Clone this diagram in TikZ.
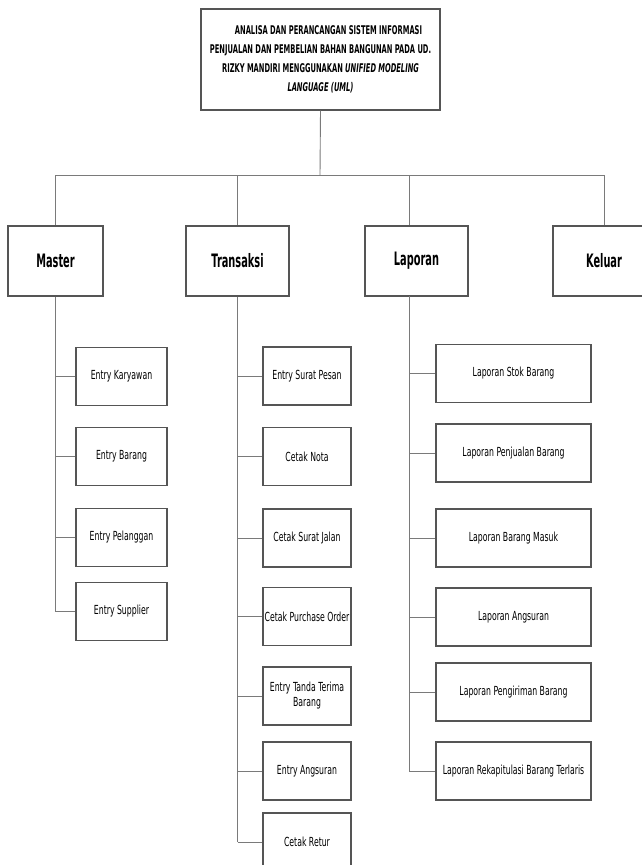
\documentclass[tikz,border=0pt]{standalone}
\usepackage{fontspec}
\setmainfont{DejaVu Sans}
\newfontfamily\titlefont[FakeStretch=0.56]{DejaVu Sans}
\newfontfamily\menufont[FakeStretch=0.53]{DejaVu Sans}
\newfontfamily\itemfont[FakeStretch=0.62]{DejaVu Sans}
\definecolor{edge}{HTML}{555555}
\definecolor{wire}{HTML}{7A7A7A}
\begin{document}
\begin{tikzpicture}[x=1pt,y=-1pt,
  box/.style={draw=edge,line width=1.1pt,fill=white,inner sep=1pt,align=center},
  titlebox/.style={box,minimum width=239pt,minimum height=101pt},
  menubox/.style={box,minimum height=70pt,font=\menufont\bfseries\fontsize{18.5}{20}\selectfont},
  itemtext/.style={font=\itemfont\fontsize{12.5}{15}\selectfont},
  mitem/.style={box,itemtext,minimum width=91pt,minimum height=58pt},
  titem/.style={box,itemtext,minimum width=88pt,minimum height=58pt},
  litem/.style={box,itemtext,minimum width=155pt,minimum height=58pt},
  wirel/.style={draw=wire,line width=0.9pt}]
\clip (0,0) rectangle (642,865);
\fill[white] (0,0) rectangle (642,865);

% title
\node[titlebox,font=\titlefont\bfseries\fontsize{12}{19}\selectfont] (title) at (320.5,59.5)
  {\hspace*{16pt}ANALISA DAN PERANCANGAN SISTEM INFORMASI\\
   PENJUALAN DAN PEMBELIAN BAHAN BANGUNAN PADA UD.\\
   RIZKY MANDIRI MENGGUNAKAN \textit{UNIFIED MODELING}\\
   \textit{LANGUAGE (UML)}};

% main menu
\node[menubox,minimum width=95pt]  (master)    at (55.5,261) {Master};
\node[menubox,minimum width=103pt] (transaksi) at (237.5,261) {Transaksi};
\node[menubox,minimum width=103pt] (laporan)   at (416.5,261) {Laporan};
\node[menubox,minimum width=102pt] (keluar)    at (604,261) {Keluar};

\coordinate (bus) at (320,175);
\coordinate (lapx) at (409,296);

% master items
\node[mitem] (m1) at (121.5,376.5) {Entry Karyawan};
\node[mitem] (m2) at (121.5,456.5) {Entry Barang};
\node[mitem] (m3) at (121.5,537.5) {Entry Pelanggan};
\node[mitem] (m4) at (121.5,611.5) {Entry Supplier};

% transaction items
\node[titem] (t1) at (307,376) {Entry Surat Pesan};
\node[titem] (t2) at (307,456.5) {Cetak Nota};
\node[titem] (t3) at (307,538) {Cetak Surat Jalan};
\node[titem] (t4) at (307,616.5) {Cetak Purchase Order};
\node[titem] (t5) at (307,696) {Entry Tanda Terima\\Barang};
\node[titem] (t6) at (307,771) {Entry Angsuran};
\node[titem] (t7) at (307,842) {Cetak Retur};

% report items
\node[litem] (l1) at (513.5,373.5) {Laporan Stok Barang};
\node[litem] (l2) at (513.5,453) {Laporan Penjualan Barang};
\node[litem] (l3) at (513.5,538) {Laporan Barang Masuk};
\node[litem] (l4) at (513.5,617) {Laporan Angsuran};
\node[litem] (l5) at (513.5,692) {Laporan Pengiriman Barang};
\node[litem] (l6) at (513.5,771) {Laporan Rekapitulasi Barang Terlaris};

% connectors
\path[wirel] (title.south) -- (bus);
\path[wirel] (master.north |- bus) -- (keluar.north |- bus);
\path[wirel] (master.north |- bus) -- (master.north);
\path[wirel] (transaksi.north |- bus) -- (transaksi.north);
\path[wirel] (lapx |- bus) -- (lapx |- laporan.north);
\path[wirel] (keluar.north |- bus) -- (keluar.north);

\path[wirel] (master.south) -- (master.south |- m4.west);
\foreach \n in {m1,m2,m3,m4} \path[wirel] (master.south |- \n.west) -- (\n.west);

\path[wirel] (transaksi.south) -- (transaksi.south |- t7.west);
\foreach \n in {t1,t2,t3,t4,t5,t6,t7} \path[wirel] (transaksi.south |- \n.west) -- (\n.west);

\path[wirel] (lapx) -- (lapx |- l6.west);
\foreach \n in {l1,l2,l3,l4,l5,l6} \path[wirel] (lapx |- \n.west) -- (\n.west);
\end{tikzpicture}
\end{document}
